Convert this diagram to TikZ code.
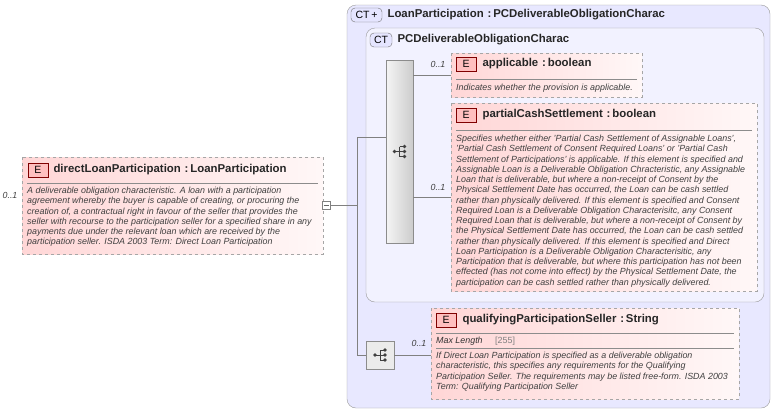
\documentclass[tikz,border=0pt]{standalone}
\usepackage{fontspec}
\setmainfont{Liberation Sans}
\begin{document}
\begin{tikzpicture}[x=1pt,y=-1pt,
  elem/.style={draw=black!35,dashed,left color=red!16,right color=red!3},
  badge/.style={draw=red!50!black,fill=red!25,inner sep=0,minimum width=20,minimum height=14,font=\fontsize{10.5}{11}\selectfont},
  ctb/.style={draw=black!55,rounded corners=4,fill=blue!10,inner sep=0,minimum height=14,font=\fontsize{10.5}{11}\selectfont},
  ttl/.style={anchor=west,font=\bfseries\fontsize{11.4}{13}\selectfont,text=black!85},
  desc/.style={anchor=north west,align=left,inner sep=0,font=\itshape\fontsize{8.9}{10.25}\selectfont,text=black!75},
  card/.style={font=\itshape\fontsize{8.8}{10}\selectfont,text=black!75},
  conn/.style={draw=black!50,line width=0.5}]
\useasboundingbox (0,0) rectangle (777,413);
% outer CT
\draw[black!40,rounded corners=9,fill=blue!9] (347,5) rectangle (770,408);
\node[ctb,minimum width=31] (ctp) at (366.5,15) {CT\,+};
\node[ttl] (ctpt) at (384,15) {LoanParticipation\,\,:\,PCDeliverableObligationCharac};
\draw[black!40,rounded corners=9,fill=blue!5] (366,28) rectangle (764,302);
\node[ctb,minimum width=22] (ct) at (381,40) {CT};
\node[ttl] (ctt) at (394,40) {PCDeliverableObligationCharac};
% sequence bar
\node[draw=black!45,left color=black!4,right color=black!20,minimum width=27,minimum height=183,inner sep=0] (seq) at (399.5,151.5) {};
\coordinate (seqL) at (386,137);
\node[draw=black!45,fill=black!8,minimum width=28,minimum height=28,inner sep=0] (seq2) at (380,355) {};
\foreach \c in {seq,seq2}{
 \begin{scope}[shift={(\c.center)}]
  \fill[black!75] (-5,0) circle(1.8);
  \draw[black!75] (-5,0)--(0,0) (0,-5)--(0,5) (0,-5)--(5,-5) (0,0)--(5,0) (0,5)--(5,5);
  \fill[black!75] (5,-5) circle(1.9) (5,0) circle(1.9) (5,5) circle(1.9);
 \end{scope}}
% left element
\draw[elem] (22,157) rectangle (323,254);
\node[badge] (b1) at (38,170) {E};
\node[ttl] (t1) at (50,170) {directLoanParticipation\,\,:\,LoanParticipation};
\draw[black!45] (27,183)--(318,183);
\node[desc] (d1) at (27,187) {A deliverable obligation characteristic. A loan with a participation\\agreement whereby the buyer is capable of creating, or procuring the\\creation of, a contractual right in favour of the seller that provides the\\seller with recourse to the participation seller for a specified share in any\\payments due under the relevant loan which are received by the\\participation seller. ISDA 2003 Term: Direct Loan Participation};
\node[card] (c1) at (10,195) {0..1};
\node[draw=black!50,fill=white,minimum size=8,inner sep=0] (minus) at (326,205) {};
\draw[black!60] (323.5,205)--(328.5,205);
\coordinate (j) at (357,205);
\draw[conn] (minus.east)--(j);
\draw[conn] (357,137)--(357,355);
\draw[conn] (357,137)--(seqL);
\draw[conn] (357,355)--(seq2.west);
% applicable
\draw[elem] (451,53) rectangle (642,97);
\node[badge] (b2) at (466,64) {E};
\node[ttl] (t2) at (479,64) {applicable\,\,:\,boolean};
\draw[black!45] (456,79)--(637,79);
\node[desc] (d2) at (456,84) {Indicates whether the provision is applicable.};
\node[card] (c2) at (438,64) {0..1};
\draw[conn] (413,75)--(451,75);
% partial
\draw[elem] (451,103) rectangle (757,291);
\node[badge] (b3) at (466,115) {E};
\node[ttl] (t3) at (479,115) {partialCashSettlement\,\,:\,boolean};
\draw[black!45] (456,130)--(752,130);
\node[desc] (d3) at (456,135) {Specifies whether either 'Partial Cash Settlement of Assignable Loans',\\'Partial Cash Settlement of Consent Required Loans' or 'Partial Cash\\Settlement of Participations' is applicable. If this element is specified and\\Assignable Loan is a Deliverable Obligation Chracteristic, any Assignable\\Loan that is deliverable, but where a non-receipt of Consent by the\\Physical Settlement Date has occurred, the Loan can be cash settled\\rather than physically delivered. If this element is specified and Consent\\Required Loan is a Deliverable Obligation Characterisitc, any Consent\\Required Loan that is deliverable, but where a non-receipt of Consent by\\the Physical Settlement Date has occurred, the Loan can be cash settled\\rather than physically delivered. If this element is specified and Direct\\Loan Participation is a Deliverable Obligation Characterisitic, any\\Participation that is deliverable, but where this participation has not been\\effected (has not come into effect) by the Physical Settlement Date, the\\participation can be cash settled rather than physically delivered.};
\node[card] (c3) at (438,187) {0..1};
\draw[conn] (413,197)--(451,197);
% qualifying
\draw[elem] (431,308) rectangle (739,399);
\node[badge] (b4) at (446,320) {E};
\node[ttl] (t4) at (459,320) {qualifyingParticipationSeller\,\,:\,String};
\draw[black!45] (436,333)--(734,333);
\node[anchor=west,inner sep=0,font=\itshape\fontsize{8.9}{10}\selectfont,text=black!80] (ml) at (436,341) {Max Length};
\node[anchor=west,inner sep=0,font=\fontsize{8.9}{10}\selectfont,text=black!50] (mv) at (495,341) {[255]};
\draw[black!45] (436,348)--(734,348);
\node[desc] (d4) at (436,352) {If Direct Loan Participation is specified as a deliverable obligation\\characteristic, this specifies any requirements for the Qualifying\\Participation Seller. The requirements may be listed free-form. ISDA 2003\\Term: Qualifying Participation Seller};
\node[card] (c4) at (419,343) {0..1};
\draw[conn] (seq2.east)--(431,355);
\end{tikzpicture}
\end{document}
